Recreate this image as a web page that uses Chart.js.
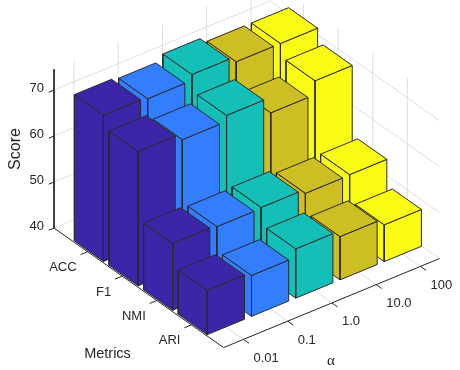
<!DOCTYPE html>
<html>
<head>
<meta charset="utf-8">
<style>
  html, body { margin: 0; padding: 0; background: #fff; }
  canvas { display: block; }
</style>
<script src="https://cdn.jsdelivr.net/npm/chart.js@4/dist/chart.umd.min.js"></script>
</head>
<body>
<canvas id="bars" width="460" height="370"></canvas>
<script>
const metrics = ['ACC', 'F1', 'NMI', 'ARI'];
const alphas = ['0.01', '0.1', '1.0', '10.0', '100'];
const zTicks = [40, 50, 60, 70];

// one row per metric, one value per alpha
const acc = [71.8, 71.4, 72.7, 71.5, 71.5];
const f1 = [69.2, 67.8, 69.1, 65.7, 68.7];
const nmi = [54.5, 54.2, 54.4, 53.5, 53.6];
const ari = [49.6, 48.9, 50.7, 49.4, 48.0];
const rows = [acc, f1, nmi, ari];

const barColors = ['#3c26a8', '#337dff', '#14bfb8', '#cdbe24', '#f9fb15'];

// fake 3d view, like matlab bar3
const view = { ox: 107.5, oy: 243.5, mx: 34.6, my: 24.4, ax: 44.25, ay: -18.25, zs: 4.6 };
const mMin = -0.97, mMax = 3.93, aMin = -0.45, aMax = 4.43, zMin = 40, zMax = 74.5;
const barHalf = 0.42;

function project(m, a, z) {
  return {
    x: view.ox + m * view.mx + a * view.ax,
    y: view.oy + m * view.my + a * view.ay - (z - zMin) * view.zs
  };
}

const datasets = [];
function addLine(points, color, width) {
  datasets.push({
    data: points, borderColor: color, borderWidth: width, fill: false,
    pointRadius: 0, tension: 0, clip: false, order: -datasets.length
  });
}
function addFace(points, color) {
  datasets.push({
    data: points.concat([points[0]]), borderColor: '#2a2a2a', borderWidth: 1,
    backgroundColor: color, fill: 'shape', borderJoinStyle: 'round',
    pointRadius: 0, tension: 0, clip: false, order: -datasets.length
  });
}

const gridColor = '#dedede';
const axisColor = '#262626';

// walls and floor
zTicks.forEach(z => {
  addLine([project(mMin, aMin, z), project(mMin, aMax, z), project(mMax, aMax, z)], gridColor, 1);
});
alphas.forEach((t, a) => {
  addLine([project(mMax, a, zMin), project(mMin, a, zMin), project(mMin, a, zMax)], gridColor, 1);
});
metrics.forEach((t, m) => {
  addLine([project(m, aMin, zMin), project(m, aMax, zMin), project(m, aMax, zMax)], gridColor, 1);
});

// axes
addLine([project(mMin, aMin, zMax), project(mMin, aMin, zMin), project(mMax, aMin, zMin), project(mMax, aMax, zMin)], axisColor, 1);

// ticks point outward from the box
zTicks.forEach(z => {
  addLine([project(mMin, aMin, z), project(mMin, aMin - 0.12, z)], axisColor, 1);
});
metrics.forEach((t, m) => {
  addLine([project(m, aMin, zMin), project(m, aMin - 0.16, zMin)], axisColor, 1);
});
alphas.forEach((t, a) => {
  addLine([project(mMax, a, zMin), project(mMax + 0.16, a, zMin)], axisColor, 1);
});

// bars, back to front
rows.forEach((row, m) => {
  for (let a = alphas.length - 1; a >= 0; a--) {
    const h = row[a];
    const m0 = m - barHalf, m1 = m + barHalf, a0 = a - barHalf, a1 = a + barHalf;
    addFace([project(m0, a0, zMin), project(m1, a0, zMin), project(m1, a0, h), project(m0, a0, h)], barColors[a]);
    addFace([project(m1, a0, zMin), project(m1, a1, zMin), project(m1, a1, h), project(m1, a0, h)], barColors[a]);
    addFace([project(m0, a0, h), project(m1, a0, h), project(m1, a1, h), project(m0, a1, h)], barColors[a]);
  }
});

const axisText = {
  id: 'axisText',
  afterDraw(chart) {
    const ctx = chart.ctx, sx = chart.scales.x, sy = chart.scales.y;
    const px = p => ({ x: sx.getPixelForValue(p.x), y: sy.getPixelForValue(p.y) });
    ctx.save();
    ctx.fillStyle = axisColor;
    ctx.textBaseline = 'middle';
    ctx.font = '13px "Liberation Sans"';

    ctx.textAlign = 'right';
    zTicks.forEach(z => {
      const p = px(project(mMin, aMin, z));
      ctx.fillText(String(z), p.x - 10, p.y - 2);
    });
    metrics.forEach((t, m) => {
      const p = px(project(m, aMin, zMin));
      ctx.fillText(t, p.x - 11, p.y + 16);
    });
    ctx.textAlign = 'left';
    alphas.forEach((t, a) => {
      const p = px(project(mMax, a, zMin));
      ctx.fillText(t, p.x + 10, p.y + 19);
    });

    ctx.textAlign = 'center';
    ctx.font = '14.5px "Liberation Sans"';
    ctx.fillText('Metrics', 107.5, 354);
    ctx.font = '15px "Liberation Serif"';
    ctx.fillText('α', 331, 361);
    ctx.translate(16, 149);
    ctx.rotate(-Math.PI / 2);
    ctx.font = '16px "Liberation Sans"';
    ctx.fillText('Score', 0, 0);
    ctx.restore();
  }
};

new Chart(document.getElementById('bars').getContext('2d'), {
  type: 'line',
  data: { datasets: datasets },
  options: {
    responsive: false,
    animation: false,
    layout: { padding: 0 },
    plugins: { legend: { display: false }, tooltip: { enabled: false } },
    scales: {
      x: { type: 'linear', min: 0, max: 460, display: false },
      y: { type: 'linear', min: 0, max: 370, reverse: true, display: false }
    }
  },
  plugins: [axisText]
});
</script>
</body>
</html>
